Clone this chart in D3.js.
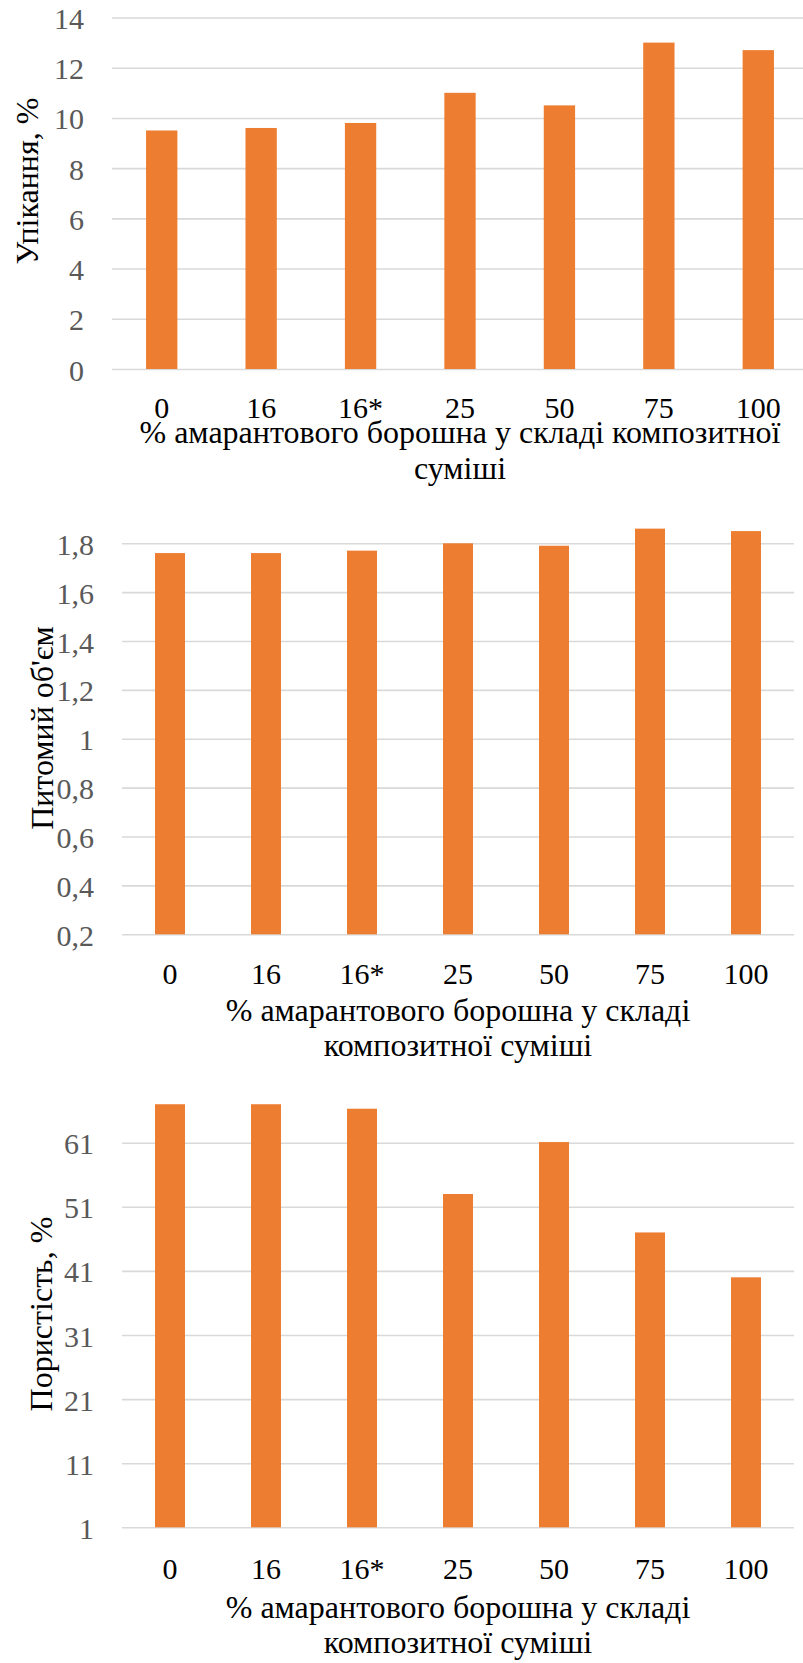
<!DOCTYPE html>
<html>
<head>
<meta charset="utf-8">
<script src="https://cdn.jsdelivr.net/npm/d3@7"></script>
<style>
  html, body { margin: 0; padding: 0; background: #ffffff; }
  svg { display: block; }
  svg text { font-family: "Liberation Serif", "Times New Roman", Times, "DejaVu Serif", serif !important; }
</style>
</head>
<body>
<script>
// ---- Data ----
const categories = ["0", "16", "16*", "25", "50", "75", "100"];
const shrinkageValues = [9.5, 9.6, 9.8, 11.0, 10.5, 13.0, 12.7];
const volumeValues = [1.76, 1.76, 1.77, 1.80, 1.79, 1.86, 1.85];
const porosityValues = [67.0, 67.0, 66.3, 53.0, 61.1, 47.0, 40.0];
const shrinkageTicks = [0, 2, 4, 6, 8, 10, 12, 14];
const volumeTicks = [0.2, 0.4, 0.6, 0.8, 1.0, 1.2, 1.4, 1.6, 1.8];
const porosityTicks = [1, 11, 21, 31, 41, 51, 61];
const shrinkageTitle = "Упікання, %";
const volumeTitle = "Питомий об'єм";
const porosityTitle = "Пористість, %";
const xTitleLines1 = ["% амарантового борошна у складі композитної", "суміші"];
const xTitleLines2 = ["% амарантового борошна у складі", "композитної суміші"];

const W = 803, H = 1663;
const BAR_COLOR = "#ED7D31";
const GRID_COLOR = "#d9d9d9";
const FONT = '"Liberation Serif", "Times New Roman", Times, "DejaVu Serif", serif';

const svg = d3.select("body").append("svg")
  .attr("width", W).attr("height", H)
  .attr("viewBox", `0 0 ${W} ${H}`)
  .attr("font-family", FONT);

svg.append("rect").attr("width", W).attr("height", H).attr("fill", "#fff");

function fmtComma(v) {
  return d3.format("~g")(+v.toFixed(2)).replace(".", ",");
}

function drawChart(cfg) {
  const g = svg.append("g");
  const x = d3.scaleBand()
    .domain(categories)
    .range([cfg.left, cfg.right])
    .paddingInner(cfg.padInner)
    .paddingOuter(cfg.padInner / 2);
  const y = d3.scaleLinear()
    .domain(cfg.domain)
    .range([cfg.bottom, cfg.top]);

  // gridlines (via axis)
  const gridAxis = d3.axisLeft(y)
    .tickValues(cfg.ticks)
    .tickSize(-(cfg.gridRight - cfg.left))
    .tickFormat("");
  const gg = g.append("g")
    .attr("transform", `translate(${cfg.left},0)`)
    .call(gridAxis);
  gg.select(".domain").remove();
  gg.selectAll(".tick line")
    .attr("stroke", GRID_COLOR)
    .attr("stroke-width", 1.6);

  // y tick labels
  const yAxis = d3.axisLeft(y)
    .tickValues(cfg.ticks)
    .tickSize(0)
    .tickPadding(0)
    .tickFormat(cfg.format);
  const ya = g.append("g")
    .attr("transform", `translate(${cfg.left - 28},0)`)
    .call(yAxis)
    .attr("font-family", FONT);
  ya.select(".domain").remove();
  ya.selectAll(".tick text")
    .style("font-family", FONT)
    .attr("font-size", 30)
    .attr("fill", "#595959")
    .attr("text-anchor", "end")
    .attr("dy", null)
    .attr("y", 11);

  // bars
  g.append("g").selectAll("rect")
    .data(cfg.values)
    .join("rect")
    .attr("x", (d, i) => x(categories[i]))
    .attr("width", x.bandwidth())
    .attr("y", d => y(d))
    .attr("height", d => y(cfg.domain[0]) - y(d))
    .attr("fill", BAR_COLOR);

  // x tick labels
  const xAxis = d3.axisBottom(x).tickSize(0).tickPadding(0);
  const xa = g.append("g")
    .attr("transform", `translate(0,${cfg.bottom})`)
    .call(xAxis)
    .attr("font-family", FONT);
  xa.select(".domain").remove();
  xa.selectAll(".tick text")
    .style("font-family", FONT)
    .attr("font-size", 30)
    .attr("fill", "#000")
    .attr("dy", null)
    .attr("y", cfg.xTickGap);

  // x axis title
  const cx = (cfg.left + cfg.right) / 2;
  g.append("g").selectAll("text")
    .data(cfg.xTitle)
    .join("text")
    .style("font-family", FONT)
    .attr("x", cx)
    .attr("y", (d, i) => cfg.bottom + cfg.xTitleGap + i * 35.5)
    .attr("text-anchor", "middle")
    .attr("font-size", 32)
    .attr("fill", "#000")
    .text(d => d);

  // y axis title
  g.append("text")
    .style("font-family", FONT)
    .attr("transform", `translate(${cfg.yTitleX},${cfg.yTitleY}) rotate(-90)`)
    .attr("text-anchor", "middle")
    .attr("font-size", 32)
    .attr("fill", "#000")
    .text(cfg.yTitle);
}

drawChart({
  values: shrinkageValues, ticks: shrinkageTicks, domain: [0, 14],
  left: 112, right: 808, gridRight: 808, top: 17.5, bottom: 369,
  padInner: 0.685, format: d => String(d),
  xTickGap: 49, xTitleGap: 74, xTitle: xTitleLines1,
  yTitle: shrinkageTitle, yTitleX: 38, yTitleY: 181
});

drawChart({
  values: volumeValues, ticks: volumeTicks, domain: [0.2, 1.8],
  left: 122, right: 794, gridRight: 794, top: 543.3, bottom: 934.3,
  padInner: 0.6875, format: fmtComma,
  xTickGap: 50, xTitleGap: 86.5, xTitle: xTitleLines2,
  yTitle: volumeTitle, yTitleX: 53, yTitleY: 728
});

drawChart({
  values: porosityValues, ticks: porosityTicks, domain: [1, 61],
  left: 122, right: 794, gridRight: 794, top: 1142.7, bottom: 1527.3,
  padInner: 0.6875, format: d => String(d),
  xTickGap: 51.5, xTitleGap: 90.5, xTitle: xTitleLines2,
  yTitle: porosityTitle, yTitleX: 52, yTitleY: 1314
});
</script>
</body>
</html>
